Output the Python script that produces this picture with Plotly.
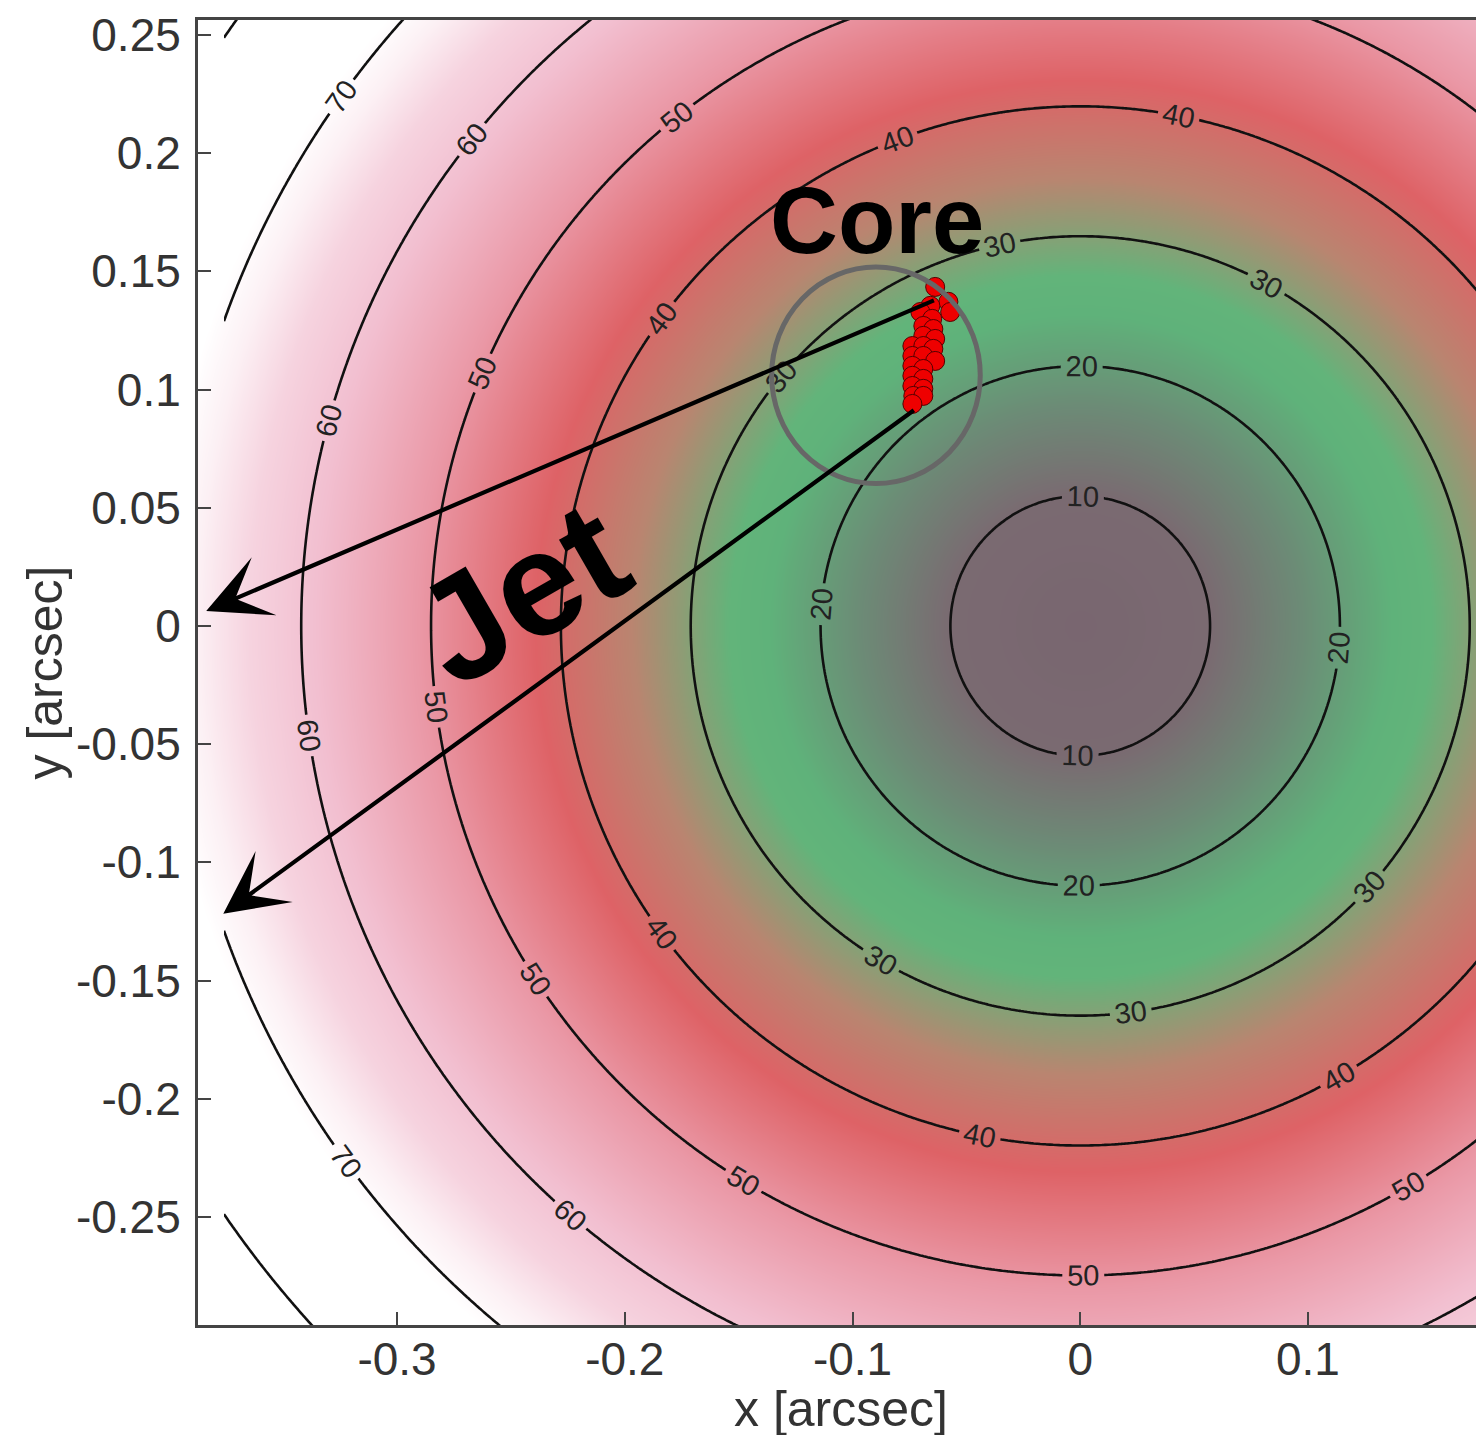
import numpy as np
import plotly.graph_objects as go

# ---------------- data ----------------
# contour field model: value grows linearly with distance from the centre
field_center = [0.0, 0.0]          # arcsec
field_gain_x = 175.4               # contour units per arcsec along x
field_gain_y = 182.0               # contour units per arcsec along y
colour_x_extent = [-0.40, 0.22]    # region covered by the colour map
line_x_extent = [-0.376, 0.22]     # region where contour lines are drawn
field_y_extent = [-0.32, 0.28]
contour_start = 10
contour_step = 10
# plotly spaces its in-line labels by the number of levels it is given; levels above
# the map's maximum draw nothing but give the label density of the reference
contour_end_for_labels = 790

# red markers (core positions)
core_x = [-0.0637, -0.0579, -0.0571, -0.0658, -0.0702, -0.0650, -0.0689, -0.0645,
          -0.0689, -0.0637, -0.0737, -0.0689, -0.0645, -0.0737, -0.0689, -0.0637,
          -0.0737, -0.0689, -0.0737, -0.0689, -0.0737, -0.0689, -0.0733, -0.0689,
          -0.0737]
core_y = [0.1434, 0.1371, 0.1328, 0.1354, 0.1328, 0.1299, 0.1269, 0.1256,
          0.1227, 0.1214, 0.1184, 0.1184, 0.1172, 0.1142, 0.1142, 0.1121,
          0.1100, 0.1087, 0.1058, 0.1045, 0.1015, 0.1003, 0.0973, 0.0973,
          0.0939]

# grey ring around the core
ring_center = [-0.0897, 0.1060]
ring_radius = 0.0458

# jet arrows: tail (x, y) -> head (x, y)
arrow_tail_x = [-0.0636, -0.0724]
arrow_tail_y = [0.1380, 0.0917]
arrow_head_x = [-0.3838, -0.3763]
arrow_head_y = [0.0063, -0.1217]

# labels
label_text = ["Core", "Jet"]
label_x = [-0.0891, -0.2455]
label_y = [0.1713, 0.0140]

x_ticks = [-0.3, -0.2, -0.1, 0, 0.1]
x_tick_text = ["-0.3", "-0.2", "-0.1", "0", "0.1"]
y_ticks = [0.25, 0.2, 0.15, 0.1, 0.05, 0, -0.05, -0.1, -0.15, -0.2, -0.25]
y_tick_text = ["0.25", "0.2", "0.15", "0.1", "0.05", "0", "-0.05", "-0.1", "-0.15", "-0.2", "-0.25"]
x_title = "x [arcsec]"
y_title = "y [arcsec]"

x_range = [-0.3874, 0.1773]
y_range = [-0.2957, 0.2563]


def field(xs, ys):
    GX, GY = np.meshgrid(xs, ys)
    return np.sqrt((field_gain_x * (GX - field_center[0])) ** 2 +
                   (field_gain_y * (GY - field_center[1])) ** 2)


gy = np.linspace(field_y_extent[0], field_y_extent[1], 420)
gx_col = np.linspace(colour_x_extent[0], colour_x_extent[1], 420)
gx_line = np.linspace(line_x_extent[0], line_x_extent[1], 420)

zmax = 80.0
stops = [
    (0, "#796670"), (10, "#7a6a71"), (17, "#6c8b76"), (24, "#5fb27a"),
    (27, "#62b47a"), (34.5, "#b98570"), (42, "#de6266"), (51, "#ea98a6"),
    (59, "#f2bfd0"), (64, "#f6d3df"), (68, "#fcf0f4"), (71, "#ffffff"),
    (80, "#ffffff"),
]
colorscale = [[v / zmax, c] for v, c in stops]

fig = go.Figure()

# smooth colour map
fig.add_trace(go.Heatmap(
    x=gx_col, y=gy, z=field(gx_col, gy),
    zmin=0, zmax=zmax, colorscale=colorscale, zsmooth="best",
    showscale=False, hoverinfo="skip",
))

# contour lines with in-line labels
fig.add_trace(go.Contour(
    x=gx_line, y=gy, z=field(gx_line, gy),
    showscale=False,
    contours=dict(start=contour_start, end=contour_end_for_labels, size=contour_step,
                  coloring="none", showlabels=True,
                  labelfont=dict(size=29, color="#222222", family="Liberation Sans")),
    line=dict(color="#111111", width=2.6),
    hoverinfo="skip",
))

# grey ring
fig.add_shape(type="circle", xref="x", yref="y",
              x0=ring_center[0] - ring_radius, x1=ring_center[0] + ring_radius,
              y0=ring_center[1] - ring_radius, y1=ring_center[1] + ring_radius,
              line=dict(color="#676767", width=5))

# arrows
for tx, ty, hx, hy in zip(arrow_tail_x, arrow_tail_y, arrow_head_x, arrow_head_y):
    fig.add_annotation(x=hx, y=hy, ax=tx, ay=ty, xref="x", yref="y",
                       axref="x", ayref="y", text="", showarrow=True,
                       arrowhead=3, arrowsize=2.5, arrowwidth=4.2, arrowcolor="black")

# red core markers
fig.add_trace(go.Scatter(
    x=core_x, y=core_y, mode="markers",
    marker=dict(size=19, color="#ee0000", line=dict(color="#550000", width=1)),
    hoverinfo="skip", showlegend=False,
))

# text labels
fig.add_annotation(x=label_x[0], y=label_y[0], text="<b>" + label_text[0] + "</b>",
                   showarrow=False, font=dict(size=94, color="black", family="Liberation Sans"))
fig.add_annotation(x=label_x[1], y=label_y[1], text="<b>" + label_text[1] + "</b>",
                   showarrow=False, textangle=-30,
                   font=dict(size=148, color="black", family="Liberation Sans"))

# axis titles
title_font = dict(size=50, color="#333333", family="Liberation Sans")
fig.add_annotation(xref="paper", yref="paper", x=0.5, y=-0.064, text=x_title,
                   showarrow=False, xanchor="center", yanchor="middle", font=title_font)
fig.add_annotation(xref="paper", yref="paper", x=-0.119, y=0.5, text=y_title,
                   showarrow=False, xanchor="center", yanchor="middle", textangle=-90,
                   font=title_font)

axis_font = dict(size=46, color="#333333", family="Liberation Sans")
fig.update_xaxes(range=x_range, tickvals=x_ticks, ticktext=x_tick_text,
                 ticks="inside", ticklen=13, tickwidth=2, tickcolor="#444444",
                 showline=True, linecolor="#444444", linewidth=3, mirror=True,
                 showgrid=False, zeroline=False, tickfont=axis_font,
                 automargin=False, ticklabelstandoff=-8)
fig.update_yaxes(range=y_range, tickvals=y_ticks, ticktext=y_tick_text,
                 ticks="inside", ticklen=13, tickwidth=2, tickcolor="#444444",
                 showline=True, linecolor="#444444", linewidth=3, mirror=False,
                 showgrid=False, zeroline=False, tickfont=axis_font,
                 automargin=False, ticklabelstandoff=5)

# the page adds an 8 px body margin, so the margins are reduced by it
fig.update_layout(width=1484, height=1435,
                  margin=dict(l=190, r=8, t=12, b=118),
                  plot_bgcolor="white", paper_bgcolor="white",
                  showlegend=False)

fig.write_html("out.html")
